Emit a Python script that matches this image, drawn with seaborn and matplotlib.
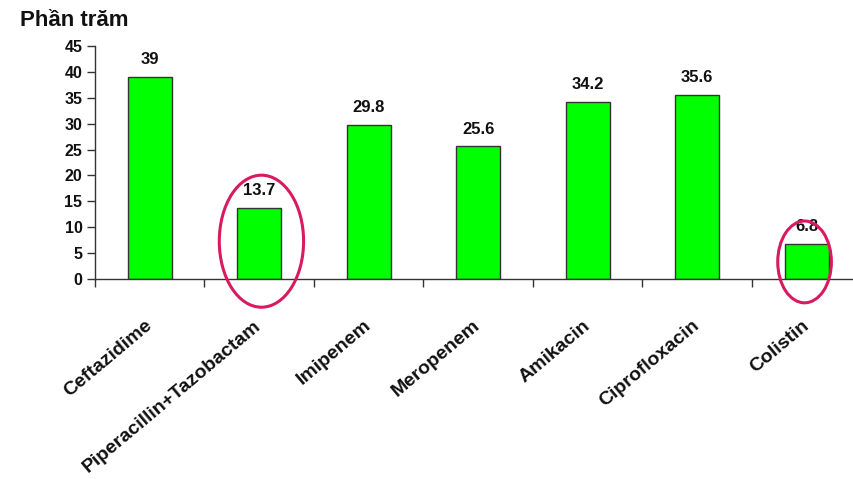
import numpy as np
import pandas as pd
import matplotlib.pyplot as plt
import seaborn as sns
from matplotlib.patches import Ellipse
from matplotlib.ticker import FixedLocator

plt.switch_backend('agg')

# data
drugs = ['Ceftazidime', 'Piperacillin+Tazobactam', 'Imipenem', 'Meropenem',
         'Amikacin', 'Ciprofloxacin', 'Colistin']
percent = [39, 13.7, 29.8, 25.6, 34.2, 35.6, 6.8]
y_ticks = list(range(0, 50, 5))

# circled bars: (category index, y centre, width, height) in data units
circles = [(1.02, 7.3, 0.77, 25.5), (5.98, 3.3, 0.49, 15.8)]

sns.set_theme(style='white')
plt.rcParams['font.family'] = ['Liberation Sans', 'DejaVu Sans']

df = pd.DataFrame({'drug': drugs, 'percent': percent})

fig = plt.figure(figsize=(8.54, 4.79), dpi=100, facecolor='white')
ax = fig.add_axes([95 / 854, 1 - 279 / 479, 766.5 / 854, 233 / 479])

sns.barplot(data=df, x='drug', y='percent', color='#00ff00', saturation=1,
            edgecolor='#333333', linewidth=1, width=0.4, ax=ax)

ax.bar_label(ax.containers[0], labels=[f'{v:g}' for v in percent], padding=7,
             fontsize=12, fontweight='bold', color='#111111')

ax.set_xlim(-0.5, len(drugs) - 0.5)
ax.set_ylim(0, 45)
ax.set_yticks(y_ticks)
ax.set_xlabel('')
ax.set_ylabel('')

# tick marks sit between categories, labels under the bars
ax.xaxis.set_minor_locator(FixedLocator(np.arange(-0.5, len(drugs), 1.0)))
ax.tick_params(axis='x', which='major', length=0, pad=32)
ax.tick_params(axis='x', which='minor', bottom=True, length=6, width=1, color='#333333', direction='out')
ax.tick_params(axis='y', left=True, length=6, width=1, color='#333333', direction='out', pad=3,
               labelsize=11.5, labelcolor='#111111')
for lab in ax.get_yticklabels():
    lab.set_fontweight('bold')
for lab in ax.get_xticklabels():
    lab.set_rotation(40)
    lab.set_ha('right')
    lab.set_va('center')
    lab.set_rotation_mode('anchor')
    lab.set_fontsize(14)
    lab.set_fontweight('bold')
    lab.set_color('#111111')

sns.despine(ax=ax)
for side in ['left', 'bottom']:
    ax.spines[side].set_color('#333333')
    ax.spines[side].set_linewidth(1)

for cx, cy, w, h in circles:
    ax.add_patch(Ellipse((cx, cy), w, h, fill=False, edgecolor='#d81b60',
                         linewidth=2.2, clip_on=False, zorder=5))

fig.text(20 / 854, 1 - 20 / 479, 'Phần trăm', fontsize=16, fontweight='bold',
         color='#111111', ha='left', va='center')

fig.savefig('out.png', dpi=100, facecolor='white')
